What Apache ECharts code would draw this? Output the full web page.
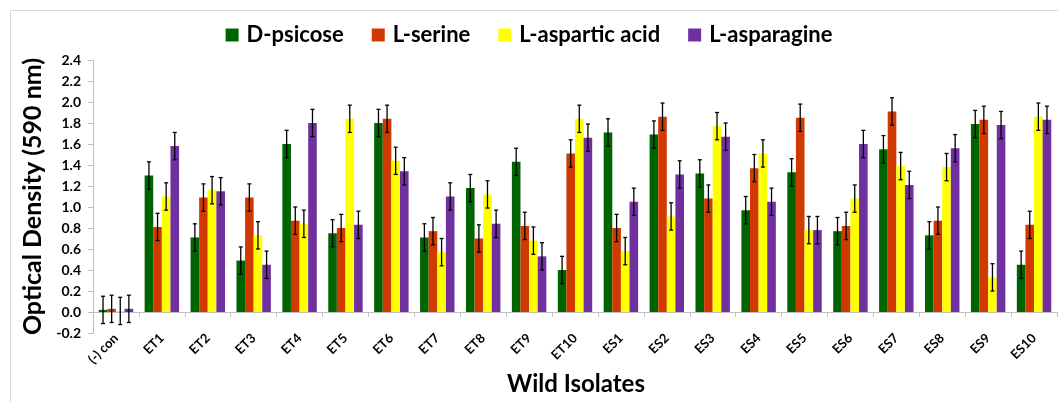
<!DOCTYPE html>
<html>
<head>
<meta charset="utf-8">
<script src="https://cdn.jsdelivr.net/npm/echarts@6/dist/echarts.min.js"></script>
<style>
html,body{margin:0;padding:0;background:#fff;}
#chart{width:1058px;height:402px;}
</style>
</head>
<body>
<div id="chart"></div>
<script>
var categories = ['(-) con','ET1','ET2','ET3','ET4','ET5','ET6','ET7','ET8','ET9','ET10','ES1','ES2','ES3','ES4','ES5','ES6','ES7','ES8','ES9','ES10'];
var seriesNames = ['D-psicose','L-serine','L-aspartic acid','L-asparagine'];
var dPsicose     = [0.02,1.30,0.71,0.49,1.60,0.75,1.80,0.71,1.18,1.43,0.40,1.71,1.69,1.32,0.97,1.33,0.77,1.55,0.73,1.79,0.45];
var lSerine      = [0.03,0.81,1.09,1.09,0.87,0.80,1.84,0.77,0.70,0.82,1.51,0.80,1.86,1.08,1.37,1.85,0.82,1.91,0.87,1.83,0.83];
var lAspartic    = [0.01,1.10,1.16,0.73,0.84,1.84,1.44,0.57,1.12,0.68,1.84,0.58,0.91,1.77,1.51,0.78,1.08,1.39,1.38,0.33,1.86];
var lAsparagine  = [0.03,1.58,1.15,0.45,1.80,0.83,1.34,1.10,0.84,0.53,1.66,1.05,1.31,1.67,1.05,0.78,1.60,1.21,1.56,1.78,1.83];
var errPsicose    = [0.13,0.13,0.13,0.13,0.13,0.13,0.13,0.13,0.13,0.13,0.13,0.13,0.13,0.13,0.13,0.13,0.13,0.13,0.13,0.13,0.13];
var errSerine     = [0.13,0.13,0.13,0.13,0.13,0.13,0.13,0.13,0.13,0.13,0.13,0.13,0.13,0.13,0.13,0.13,0.13,0.13,0.13,0.13,0.13];
var errAspartic   = [0.13,0.13,0.13,0.13,0.13,0.13,0.13,0.13,0.13,0.13,0.13,0.13,0.13,0.13,0.13,0.13,0.13,0.13,0.13,0.13,0.13];
var errAsparagine = [0.13,0.13,0.13,0.13,0.13,0.13,0.13,0.13,0.13,0.13,0.13,0.13,0.13,0.13,0.13,0.13,0.13,0.13,0.13,0.13,0.13];
var yTicks = [-0.2,0.0,0.2,0.4,0.6,0.8,1.0,1.2,1.4,1.6,1.8,2.0,2.2,2.4];
var xAxisTitle = 'Wild Isolates';
var yAxisTitle = 'Optical Density (590 nm)';

var values = [dPsicose, lSerine, lAspartic, lAsparagine];
var errors = [errPsicose, errSerine, errAspartic, errAsparagine];
var colors = ['#006400','#D03A00','#FFFF00','#7030A0'];
var FONT = 'Lato';
var CAT_GAP = 0.25;

var chart = echarts.init(document.getElementById('chart'));

function makeErr(si) {
  var data = categories.map(function (c, i) {
    return [i, values[si][i] - errors[si][i], values[si][i] + errors[si][i]];
  });
  return {
    type: 'custom',
    name: seriesNames[si] + ' err',
    silent: true,
    z: 10,
    data: data,
    renderItem: function (params, api) {
      var band = api.size([1, 0])[0];
      var bw = band * (1 - CAT_GAP) / 4;
      var lo = api.coord([api.value(0), api.value(1)]);
      var hi = api.coord([api.value(0), api.value(2)]);
      var x = lo[0] + (si - 1.5) * bw;
      var cap = 2;
      var st = { stroke: '#000', lineWidth: 1.3 };
      return {
        type: 'group',
        children: [
          { type: 'line', shape: { x1: x, y1: lo[1], x2: x, y2: hi[1] }, style: st },
          { type: 'line', shape: { x1: x - cap, y1: lo[1], x2: x + cap, y2: lo[1] }, style: st },
          { type: 'line', shape: { x1: x - cap, y1: hi[1], x2: x + cap, y2: hi[1] }, style: st }
        ]
      };
    }
  };
}

var series = [];
seriesNames.forEach(function (n, si) {
  series.push({
    type: 'bar',
    name: n,
    data: values[si],
    barGap: '0%',
    barCategoryGap: (CAT_GAP * 100) + '%',
    itemStyle: { color: colors[si] },
    emphasis: { disabled: true }
  });
});
seriesNames.forEach(function (n, si) { series.push(makeErr(si)); });

chart.setOption({
  animation: false,
  color: colors,
  graphic: [{
    type: 'rect',
    shape: { x: 10.5, y: 10.5, width: 1100, height: 500 },
    style: { fill: 'none', stroke: '#d9d9d9', lineWidth: 1 },
    silent: true
  }, {
    type: 'text',
    x: 576,
    y: 384,
    silent: true,
    style: {
      text: xAxisTitle,
      align: 'center',
      verticalAlign: 'middle',
      fontFamily: FONT,
      fontWeight: 'bold',
      fontSize: 24,
      fill: '#000'
    }
  }],
  legend: {
    data: seriesNames,
    top: 19,
    left: 'center',
    itemWidth: 13,
    itemHeight: 13,
    itemGap: 28,
    icon: 'rect',
    textStyle: { fontFamily: FONT, fontWeight: 'bold', fontSize: 22, color: '#000', padding: [0, 0, 0, 3] }
  },
  grid: { left: 93, right: 1, top: 60, bottom: 69, containLabel: false, outerBoundsMode: 'none' },
  xAxis: {
    type: 'category',
    data: categories,
    axisLine: { onZero: true, lineStyle: { color: '#bfbfbf', width: 1 } },
    axisTick: { show: true, length: 5, lineStyle: { color: '#bfbfbf' } },
    axisLabel: { rotate: 45, margin: 3, fontFamily: FONT, fontWeight: 'bold', fontSize: 13, color: '#000' }
  },
  yAxis: {
    type: 'value',
    min: -0.2,
    max: 2.4,
    interval: 0.2,
    name: yAxisTitle,
    nameLocation: 'middle',
    nameGap: 44,
    nameTextStyle: { fontFamily: FONT, fontWeight: 'bold', fontSize: 25, color: '#000' },
    axisLine: { show: true, lineStyle: { color: '#bfbfbf', width: 1 } },
    axisTick: { show: true, length: 5, lineStyle: { color: '#bfbfbf' } },
    splitLine: { show: false },
    axisLabel: {
      margin: 12, fontFamily: FONT, fontWeight: 'bold', fontSize: 14, color: '#000',
      formatter: function (v) { return (Math.round(v * 10) / 10).toFixed(1); }
    }
  },
  series: series
});
</script>
</body>
</html>
